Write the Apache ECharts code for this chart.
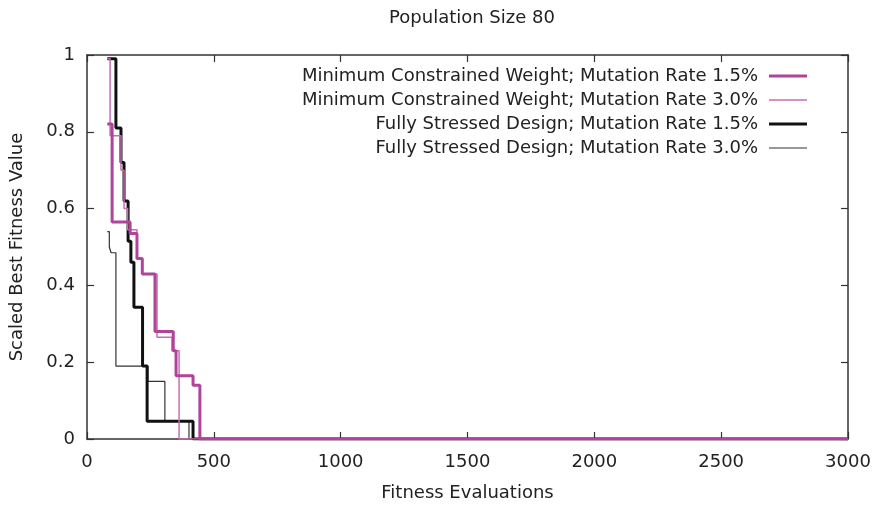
<!DOCTYPE html>
<html>
<head>
<meta charset="utf-8">
<script src="https://cdn.jsdelivr.net/npm/echarts@6/dist/echarts.min.js"></script>
<style>
  html, body { margin: 0; padding: 0; background: #fff; }
  #chart { width: 878px; height: 507px; }
</style>
</head>
<body>
<div id="chart"></div>
<script>
// Best-so-far fitness traces; each [evaluations, value] pair holds until the next one.
const seriesNames = [
  'Minimum Constrained Weight; Mutation Rate 1.5%',
  'Minimum Constrained Weight; Mutation Rate 3.0%',
  'Fully Stressed Design; Mutation Rate 1.5%',
  'Fully Stressed Design; Mutation Rate 3.0%'
];

const mcw15 = [
  [80, 0.82], [99, 0.565], [170, 0.535], [197, 0.47], [218, 0.43],
  [268, 0.28], [340, 0.23], [351, 0.165], [418, 0.14], [445, 0], [3000, 0]
];

const mcw30 = [
  [80, 0.99], [91, 0.79], [134, 0.70], [146, 0.60], [160, 0.545],
  [197, 0.47], [218, 0.43], [276, 0.265], [335, 0.23], [363, 0], [3000, 0]
];

const fsd15 = [
  [80, 0.99], [114, 0.81], [134, 0.72], [146, 0.62], [162, 0.515],
  [173, 0.46], [185, 0.343], [219, 0.19], [237, 0.046], [418, 0], [3000, 0]
];

const fsd30 = [
  [80, 0.54], [88, 0.50], [95, 0.485], [114, 0.19], [240, 0.15],
  [307, 0.046], [402, 0], [3000, 0]
];

const xTicks = { min: 0, max: 3000, interval: 500 };
const yTicks = { min: 0, max: 1, interval: 0.2 };

const colors = ['#b0439a', '#c86cb6', '#111111', '#333333'];
const widths = [3, 1.5, 3, 1.2];
const datasets = [mcw15, mcw30, fsd15, fsd30];

const font = 'DejaVu Sans';
const textColor = '#222';
const fontSize = 18;

const chart = echarts.init(document.getElementById('chart'));

const axisLine = { show: true, onZero: false, lineStyle: { color: '#333', width: 1.5 } };
const axisTick = { show: true, inside: true, length: 7, lineStyle: { color: '#333', width: 1.2 } };

const series = datasets.map((d, i) => ({
  name: seriesNames[i],
  type: 'line',
  step: 'end',
  data: d,
  showSymbol: false,
  symbol: 'none',
  lineStyle: { color: colors[i], width: widths[i] },
  itemStyle: { color: colors[i] },
  z: 10 - i
}));

// One legend per entry so every line sample lines up on the right edge.
const legends = seriesNames.map((name, i) => ({
  data: [{ name: name, icon: 'rect' }],
  right: 66,
  top: 62 + i * 24,
  align: 'right',
  itemWidth: 38,
  itemHeight: widths[i],
  itemGap: 12,
  selectedMode: false,
  textStyle: { fontFamily: font, fontSize: fontSize, color: textColor, padding: [0, 6, 0, 0] }
}));

chart.setOption({
  animation: false,
  backgroundColor: '#fff',
  title: {
    text: 'Population Size 80',
    left: 467,
    textAlign: 'center',
    top: 4,
    textStyle: { fontFamily: font, fontSize: fontSize, fontWeight: 'normal', color: textColor }
  },
  legend: legends,
  grid: { left: 87, right: 30, top: 55, bottom: 64 },
  xAxis: [
    {
      type: 'value',
      min: xTicks.min, max: xTicks.max, interval: xTicks.interval,
      name: 'Fitness Evaluations',
      nameLocation: 'middle',
      nameGap: 45,
      nameTextStyle: { fontFamily: font, fontSize: fontSize, color: textColor },
      axisLine: axisLine,
      axisTick: axisTick,
      axisLabel: { fontFamily: font, fontSize: fontSize, color: textColor, margin: 14,
        formatter: v => String(v) },
      splitLine: { show: false }
    },
    {
      type: 'value', position: 'top',
      min: xTicks.min, max: xTicks.max, interval: xTicks.interval,
      axisLine: axisLine,
      axisTick: axisTick,
      axisLabel: { show: false },
      splitLine: { show: false }
    }
  ],
  yAxis: [
    {
      type: 'value',
      min: yTicks.min, max: yTicks.max, interval: yTicks.interval,
      name: 'Scaled Best Fitness Value',
      nameLocation: 'middle',
      nameGap: 61,
      nameRotate: 90,
      nameTextStyle: { fontFamily: font, fontSize: fontSize, color: textColor },
      axisLine: axisLine,
      axisTick: axisTick,
      axisLabel: { fontFamily: font, fontSize: fontSize, color: textColor, margin: 12,
        formatter: v => String(Math.round(v * 10) / 10) },
      splitLine: { show: false }
    },
    {
      type: 'value', position: 'right',
      min: yTicks.min, max: yTicks.max, interval: yTicks.interval,
      axisLine: axisLine,
      axisTick: axisTick,
      axisLabel: { show: false },
      splitLine: { show: false }
    }
  ],
  series: series
});
</script>
</body>
</html>
